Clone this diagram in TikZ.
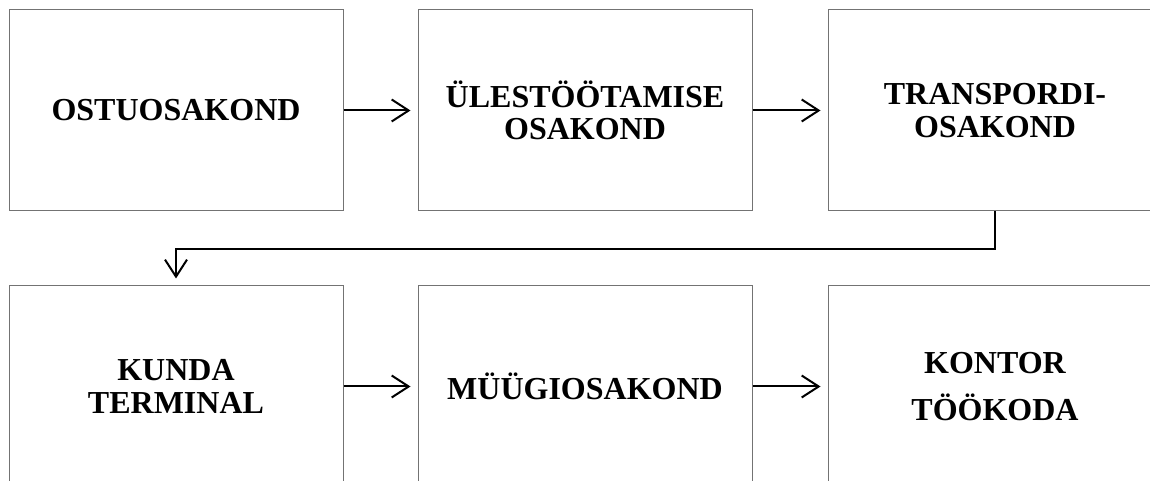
\documentclass[tikz,border=0pt]{standalone}
\usepackage{fontspec}
\setmainfont{Liberation Serif}
\usetikzlibrary{arrows.meta}
\begin{document}
\begin{tikzpicture}[x=1pt,y=1pt,
  dept/.style={draw=black!55, line width=1pt, minimum width=334pt, minimum height=201pt,
    inner sep=0pt, align=center, font=\fontsize{32}{32.5}\selectfont\bfseries},
  flow/.style={line width=2pt, -{Straight Barb[length=17pt,width=22pt,line width=2pt]}, shorten >=7pt}]
\clip (0,0) rectangle (1150,481);
\fill[white] (0,0) rectangle (1150,481);
\node[dept] (b1) at (176,370.5) {OSTUOSAKOND};
\node[dept] (b2) at (585,370.5) {ÜLESTÖÖTAMISE\\OSAKOND};
\node[dept] (b3) at (995,370.5) {TRANSPORDI-\\OSAKOND};
\node[dept] (b4) at (176,94.5) {KUNDA\\TERMINAL};
\node[dept] (b5) at (585,94.5) {MÜÜGIOSAKOND};
\node[dept] (b6) at (995,94.5) {KONTOR\\[14pt]TÖÖKODA};
\coordinate (t1) at (995,232);
\draw[flow] (b1.east) -- (b2.west);
\draw[flow] (b2.east) -- (b3.west);
\draw[flow] (b3.south) -- (t1) -| (b4.north);
\draw[flow] (b4.east) -- (b5.west);
\draw[flow] (b5.east) -- (b6.west);
\end{tikzpicture}
\end{document}
